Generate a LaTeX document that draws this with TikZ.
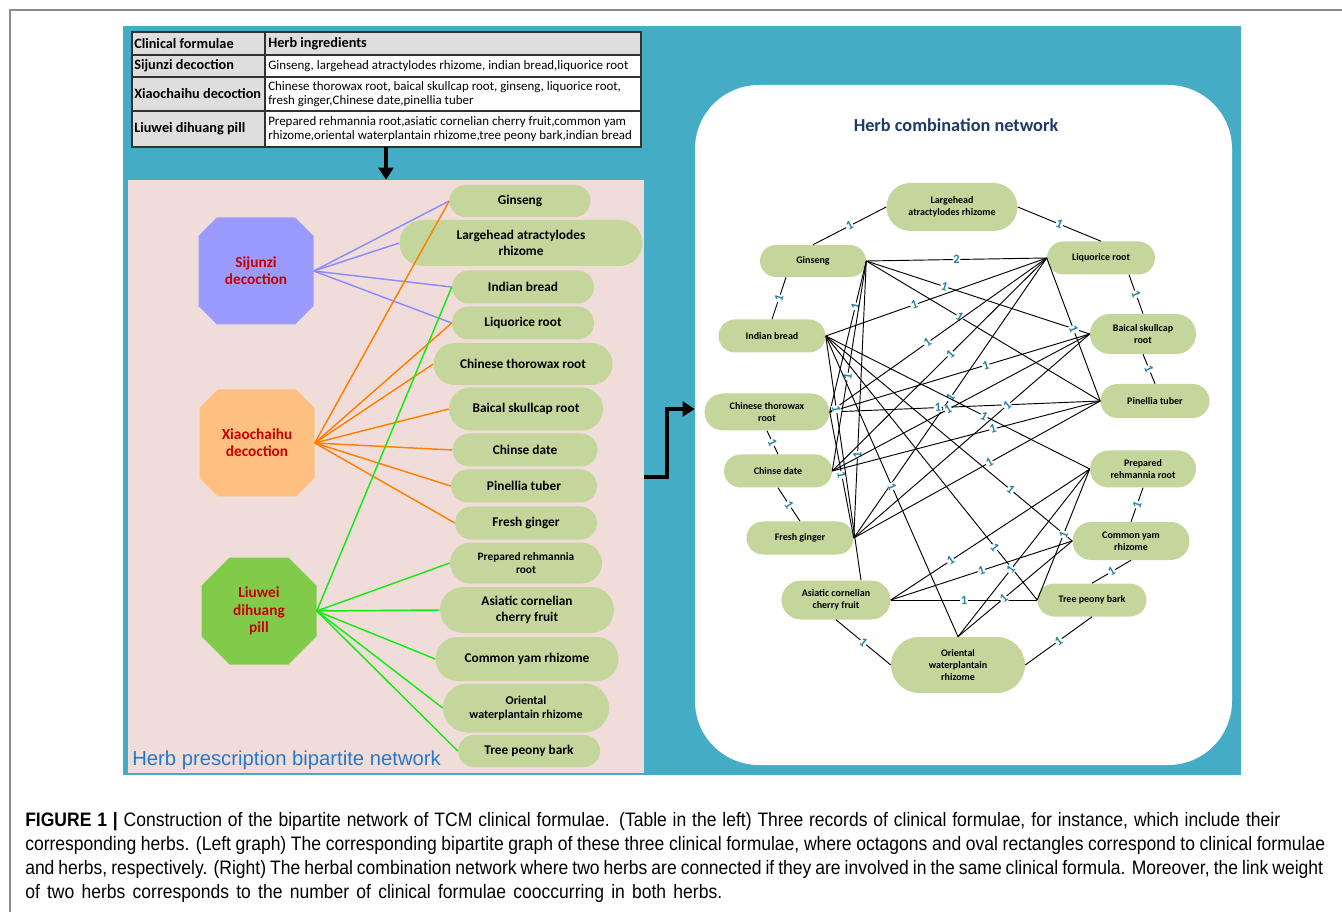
\documentclass[tikz,border=0pt]{standalone}
\usepackage{fontspec}
\setmainfont{Carlito}
\newfontfamily\capfont[FakeStretch=0.9]{Liberation Sans}
\newfontfamily\arialfont{Liberation Sans}
\usetikzlibrary{shapes.misc,arrows.meta}
\def\p#1{#1*0.75pt}
\definecolor{panelblue}{RGB}{69,172,197}
\definecolor{pinkbg}{RGB}{240,221,218}
\definecolor{herbgreen}{RGB}{196,214,155}
\definecolor{sijcol}{RGB}{154,154,255}
\definecolor{xiacol}{RGB}{253,192,128}
\definecolor{liucol}{RGB}{128,204,74}
\definecolor{sijline}{RGB}{140,140,255}
\definecolor{xialine}{RGB}{255,128,0}
\definecolor{liuline}{RGB}{20,235,20}
\definecolor{labred}{RGB}{200,0,0}
\definecolor{wtcol}{RGB}{40,130,165}
\definecolor{titlenavy}{RGB}{30,58,105}
\definecolor{bipblue}{RGB}{40,120,200}
\definecolor{framegray}{RGB}{140,140,140}
\definecolor{cellgray}{RGB}{222,222,222}
\definecolor{tabline}{RGB}{50,50,50}
\tikzset{
  herbL/.style={rounded rectangle, fill=herbgreen, inner sep=0pt, align=center, font=\bfseries\fontsize{10}{11.5}\selectfont},
  herbR/.style={rounded rectangle, fill=herbgreen, inner sep=0pt, align=center, font=\bfseries\fontsize{7.5}{9}\selectfont},
  octo/.style={chamfered rectangle, chamfered rectangle xsep=\p{32}, inner sep=0pt, minimum width=\p{115}, minimum height=\p{107}, text=labred, align=center, font=\bfseries\fontsize{11.5}{13}\selectfont},
  sijE/.style={sijline, line width=1.1pt},
  xiaE/.style={xialine, line width=1.1pt},
  liuE/.style={liuline, line width=1.1pt},
  net/.style={black, line width=0.7pt},
  wlab/.style={text=wtcol, fill=white, inner sep=0.4pt, sloped, font=\bfseries\fontsize{9.5}{9.5}\selectfont},
  bigarrow/.style={line width=3pt, line join=miter, -{Triangle[length=9pt,width=11pt]}},
  tabH/.style={anchor=west, inner sep=0pt, align=left, font=\bfseries\fontsize{10.7}{12}\selectfont},
  tabT/.style={anchor=west, inner sep=0pt, align=left, font=\fontsize{9.7}{11}\selectfont},
  capline/.style={anchor=base west, inner sep=0pt, font=\capfont\fontsize{14.6}{18}\selectfont}
}
\begin{document}
\begin{tikzpicture}[x=0.75pt,y=-0.75pt]
\useasboundingbox (0,0) rectangle (1342,912);
\fill[white] (0,0) rectangle (1342,912);
\draw[framegray, line width=0.8pt] (10,912) -- (10,10) -- (1342,10);
\fill[panelblue] (123,26) rectangle (1241,775);

% ---------- table ----------
\node[rectangle, fill=white, minimum width=\p{509}, minimum height=\p{115}, inner sep=0pt] (tab) at (386.5,89.5) {};
\fill[cellgray] (132,32) rectangle (641,55);
\fill[cellgray] (132,55) rectangle (265,147);
\draw[tabline, line width=1.1pt] (132,32) rectangle (641,147);
\draw[tabline, line width=1pt] (132,55) -- (641,55) (132,77) -- (641,77) (132,111) -- (641,111) (265,32) -- (265,147);
\node[tabH] (h1) at (134,43.5) {Clinical formulae};
\node[tabH] (h2) at (268,43.5) {Herb ingredients};
\node[tabH] (c1) at (134,66) {Sijunzi decoction};
\node[tabT] (t1) at (268,66) {Ginseng, largehead atractylodes rhizome, indian bread,liquorice root};
\node[tabH] (c2) at (134,94) {Xiaochaihu decoction};
\node[tabT] (t2) at (268,94) {Chinese thorowax root, baical skullcap root, ginseng, liquorice root,\\fresh ginger,Chinese date,pinellia tuber};
\node[tabH] (c3) at (134,129) {Liuwei dihuang pill};
\node[tabT] (t3) at (268,129) {Prepared rehmannia root,asiatic cornelian cherry fruit,common yam\\rhizome,oriental waterplantain rhizome,tree peony bark,indian bread};

% ---------- panels ----------
\node[rectangle, fill=pinkbg, minimum width=\p{516}, minimum height=\p{593}, inner sep=0pt] (bip) at (386,476.5) {};
\node[rectangle, fill=white, rounded corners=48pt, minimum width=\p{537}, minimum height=\p{680}, inner sep=0pt] (combo) at (963.5,425) {};

\coordinate (dcx) at (386,0);
\draw[bigarrow] (tab.south -| dcx) -- (bip.north -| dcx);
\coordinate (ar1) at (0,477);
\coordinate (ar2) at (667,409);
\draw[bigarrow] (bip.east |- ar1) -| (ar2) -- (combo.west |- ar2);

% ---------- bipartite network ----------
\node[octo, fill=sijcol] (sij) at (256,271) {Sijunzi\\decoction};
\node[octo, fill=xiacol] (xia) at (257,443) {Xiaochaihu\\decoction};
\node[octo, fill=liucol] (liu) at (259,611) {Liuwei\\dihuang\\pill};

\node[herbL, minimum width=\p{141}, minimum height=\p{32}] (lG) at (520,201) {Ginseng};
\node[herbL, minimum width=\p{243}, minimum height=\p{46}] (lLA) at (521,243) {Largehead atractylodes\\rhizome};
\node[herbL, minimum width=\p{142}, minimum height=\p{33}] (lIB) at (523,287) {Indian bread};
\node[herbL, minimum width=\p{142}, minimum height=\p{33}] (lLR) at (523,323) {Liquorice root};
\node[herbL, minimum width=\p{179}, minimum height=\p{42}] (lCT) at (523,364) {Chinese thorowax root};
\node[herbL, minimum width=\p{154}, minimum height=\p{43}] (lBS) at (526,409) {Baical skullcap root};
\node[herbL, minimum width=\p{145}, minimum height=\p{33}] (lCD) at (525,450) {Chinse date};
\node[herbL, minimum width=\p{146}, minimum height=\p{33}] (lPT) at (524,486) {Pinellia tuber};
\node[herbL, minimum width=\p{142}, minimum height=\p{33}] (lFG) at (526,523) {Fresh ginger};
\node[herbL, minimum width=\p{152}, minimum height=\p{41}, font=\bfseries\fontsize{8.5}{10}\selectfont] (lPR) at (526,563) {Prepared rehmannia\\root};
\node[herbL, minimum width=\p{174}, minimum height=\p{46}] (lAC) at (527,610) {Asiatic cornelian\\cherry fruit};
\node[herbL, minimum width=\p{183}, minimum height=\p{44}] (lCY) at (527,659) {Common yam rhizome};
\node[herbL, minimum width=\p{166}, minimum height=\p{49}, font=\bfseries\fontsize{9}{10.5}\selectfont] (lOW) at (526,708) {Oriental\\waterplantain rhizome};
\node[herbL, minimum width=\p{142}, minimum height=\p{32}] (lTP) at (529,751) {Tree peony bark};

\foreach \h in {lG,lLA,lIB,lLR} \draw[sijE] (sij.east) -- (\h.west);
\foreach \h in {lG,lLR,lCT,lBS,lCD,lPT,lFG} \draw[xiaE] (xia.east) -- (\h.west);
\foreach \h in {lIB,lPR,lAC,lCY,lOW,lTP} \draw[liuE] (liu.east) -- (\h.west);

\node[anchor=west, inner sep=0pt, text=bipblue, font=\arialfont\fontsize{15.2}{17}\selectfont] (biptitle) at (132,760) {Herb prescription bipartite network};

% ---------- combination network ----------
\node[inner sep=0pt, text=titlenavy, font=\bfseries\fontsize{13.7}{15}\selectfont] (ctitle) at (956,125) {Herb combination network};

\node[herbR, minimum width=\p{131}, minimum height=\p{48}] (rLA) at (952,207) {Largehead\\atractylodes rhizome};
\node[herbR, minimum width=\p{106}, minimum height=\p{32}] (rG) at (813,261) {Ginseng};
\node[herbR, minimum width=\p{108}, minimum height=\p{33}] (rLR) at (1101,258) {Liquorice root};
\node[herbR, minimum width=\p{107}, minimum height=\p{33}] (rIB) at (772,336) {Indian bread};
\node[herbR, minimum width=\p{106}, minimum height=\p{40}] (rBS) at (1143,334) {Baical skullcap\\root};
\node[herbR, minimum width=\p{109}, minimum height=\p{34}] (rPT) at (1155,401) {Pinellia tuber};
\node[herbR, minimum width=\p{125}, minimum height=\p{37}] (rCT) at (767,412) {Chinese thorowax\\root};
\node[herbR, minimum width=\p{108}, minimum height=\p{33}] (rCD) at (778,471) {Chinse date};
\node[herbR, minimum width=\p{106}, minimum height=\p{37}] (rPR) at (1143,469) {Prepared\\rehmannia root};
\node[herbR, minimum width=\p{107}, minimum height=\p{33}] (rFG) at (800,538) {Fresh ginger};
\node[herbR, minimum width=\p{117}, minimum height=\p{38}] (rCY) at (1131,541) {Common yam\\rhizome};
\node[herbR, minimum width=\p{109}, minimum height=\p{39}] (rAC) at (836,600) {Asiatic cornelian\\cherry fruit};
\node[herbR, minimum width=\p{109}, minimum height=\p{33}] (rTP) at (1092,600) {Tree peony bark};
\node[herbR, minimum width=\p{134}, minimum height=\p{56}] (rOW) at (958,665) {Oriental\\waterplantain\\rhizome};

% ring edges
\draw[net] (rG.north) -- node[wlab]{1} (rLA.west);
\draw[net] (rLA.east) -- node[wlab]{1} (rLR.north);
\draw[net] ([shift={(-27,0)}]rG.south) -- node[wlab]{1} (rIB.north);
\draw[net] ([shift={(28,0)}]rLR.south) -- node[wlab]{1} (rBS.north);
\draw[net] (rBS.south) -- node[wlab]{1} (rPT.north);
\draw[net] (rCT.south) -- node[wlab]{1} (rCD.north);
\draw[net] (rCD.south) -- node[wlab]{1} (rFG.north);
\draw[net] (rPR.south) -- node[wlab]{1} (rCY.north);
\draw[net] (rCY.south) -- node[wlab]{1} (rTP.north);
\draw[net] (rAC.south) -- node[wlab]{1} (rOW.west);
\draw[net] (rOW.east) -- node[wlab]{1} (rTP.south);
% interior edges
\draw[net] (rG.east) -- node[wlab]{2} (rLR.west);
\draw[net] (rAC.east) -- node[wlab]{1} (rTP.west);
\draw[net] (rG.east) -- node[wlab, pos=0.3]{1} (rCT.east);
\draw[net] (rG.east) -- node[wlab, pos=0.35]{1} (rBS.west);
\draw[net] (rG.east) -- node[wlab, pos=0.55]{1} (rCD.east);
\draw[net] (rG.east) -- node[wlab, pos=0.4]{1} (rPT.west);
\draw[net] (rG.east) -- node[wlab, pos=0.7]{1} (rFG.east);
\draw[net] (rLR.west) -- node[wlab, pos=0.6]{1} (rIB.east);
\draw[net] (rLR.west) -- node[wlab, pos=0.55]{1} (rCT.east);
\draw[net] (rLR.west) -- node[wlab, pos=0.45]{1} (rCD.east);
\draw[net] (rLR.west) -- node[wlab, pos=0.5]{1} (rPT.west);
\draw[net] (rLR.west) -- node[wlab, pos=0.5]{1} (rFG.east);
\draw[net] (rCT.east) -- node[wlab, pos=0.6]{1} (rBS.west);
\draw[net] (rCT.east) -- node[wlab, pos=0.4]{1} (rPT.west);
\draw[net] (rCT.east) -- node[wlab, pos=0.5]{1} (rFG.east);
\draw[net] (rBS.west) -- node[wlab, pos=0.55]{1} (rCD.east);
\draw[net] (rBS.west) -- node[wlab, pos=0.35]{1} (rFG.east);
\draw[net] (rCD.east) -- node[wlab, pos=0.6]{1} (rPT.west);
\draw[net] (rPT.west) -- node[wlab, pos=0.45]{1} (rFG.east);
\draw[net] (rIB.east) -- node[wlab, pos=0.6]{1} (rPR.west);
\draw[net] (rIB.east) -- node[wlab, pos=0.3]{1} ([shift={(25,0)}]rAC.north);
\draw[net] (rIB.east) -- node[wlab, pos=0.75]{1} (rCY.west);
\draw[net] (rIB.east) -- node[wlab, pos=0.5]{1} (rOW.north);
\draw[net] (rIB.east) -- node[wlab, pos=0.8]{1} (rTP.west);
\draw[net] (rPR.west) -- node[wlab, pos=0.7]{1} (rAC.east);
\draw[net] (rPR.west) -- node[wlab, pos=0.6]{1} (rOW.north);
\draw[net] (rPR.west) -- node[wlab, pos=0.5]{1} (rTP.west);
\draw[net] (rAC.east) -- node[wlab, pos=0.5]{1} (rCY.west);
\draw[net] (rCY.west) -- node[wlab, pos=0.6]{1} (rOW.north);

% ---------- caption ----------
\node[capline] (cap1) at (25,826) {\makebox[941.25pt][s]{\textbf{FIGURE 1 |} Construction of the bipartite network of TCM clinical formulae. (Table in the left) Three records of clinical formulae, for instance, which include their}};
\node[capline] (cap2) at (25,850) {\makebox[975pt][s]{corresponding herbs. (Left graph) The corresponding bipartite graph of these three clinical formulae, where octagons and oval rectangles correspond to clinical formulae}};
\node[capline] (cap3) at (25,874) {\makebox[973.5pt][s]{and herbs, respectively. (Right) The herbal combination network where two herbs are connected if they are involved in the same clinical formula. Moreover, the link weight}};
\node[capline] (cap4) at (25,898) {\makebox[522.75pt][s]{of two herbs corresponds to the number of clinical formulae cooccurring in both herbs.}};
\end{tikzpicture}
\end{document}
